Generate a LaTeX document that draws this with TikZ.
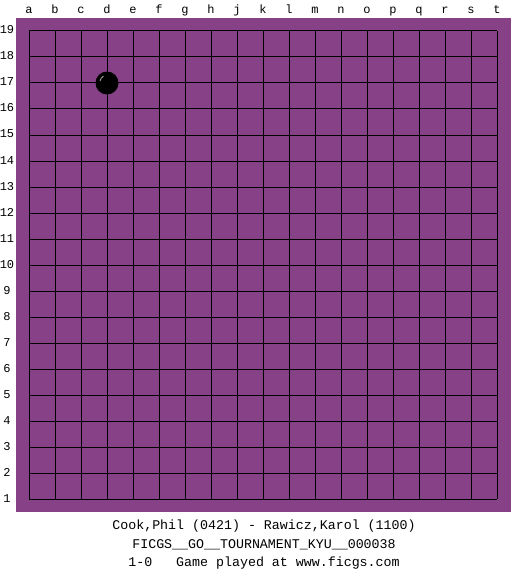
\documentclass[tikz,border=0pt]{standalone}
\usepackage{fontspec}
\setmonofont{Liberation Mono}
\definecolor{boardpurple}{RGB}{135,65,135}
\begin{document}
\begin{tikzpicture}[x=1pt,y=-1pt,
  gridline/.style={black,line width=1pt},
  coordlabel/.style={font=\ttfamily\fontsize{12}{12}\selectfont,inner sep=0pt,anchor=base},
  caption/.style={font=\ttfamily\fontsize{13.3}{13.3}\selectfont,inner sep=0pt,anchor=base},
  stonestyle/.style={circle,fill=black,minimum size=23pt,inner sep=0pt}]
\useasboundingbox (0,0) rectangle (525,575);
\fill[boardpurple] (16,18) rectangle (511,512);
\foreach \i in {0,...,18}{
  \draw[gridline] (29+26*\i,31) -- (29+26*\i,499);
  \draw[gridline] (29,31+26*\i) -- (497,31+26*\i);
}
\foreach \l [count=\i from 0] in {a,b,c,d,e,f,g,h,j,k,l,m,n,o,p,q,r,s,t}{
  \node[coordlabel] (col\i) at (29+26*\i,14) {\l};
}
\foreach \n in {1,...,19}{
  \node[coordlabel] (row\n) at (7,31+26*19-26*\n+3) {\n};
}
\node[stonestyle] (stone) at (107,83) {};
\draw[white!70!black,line width=0.8pt] (100,81) arc[start angle=190,end angle=240,radius=7];
\node[caption] (players) at (264,529) {Cook,Phil (0421) - Rawicz,Karol (1100)};
\node[caption] (event) at (264,548) {FICGS\_\_GO\_\_TOURNAMENT\_KYU\_\_000038};
\node[caption] (result) at (264,566) {1-0\ \ \ Game played at www.ficgs.com};
\end{tikzpicture}
\end{document}
